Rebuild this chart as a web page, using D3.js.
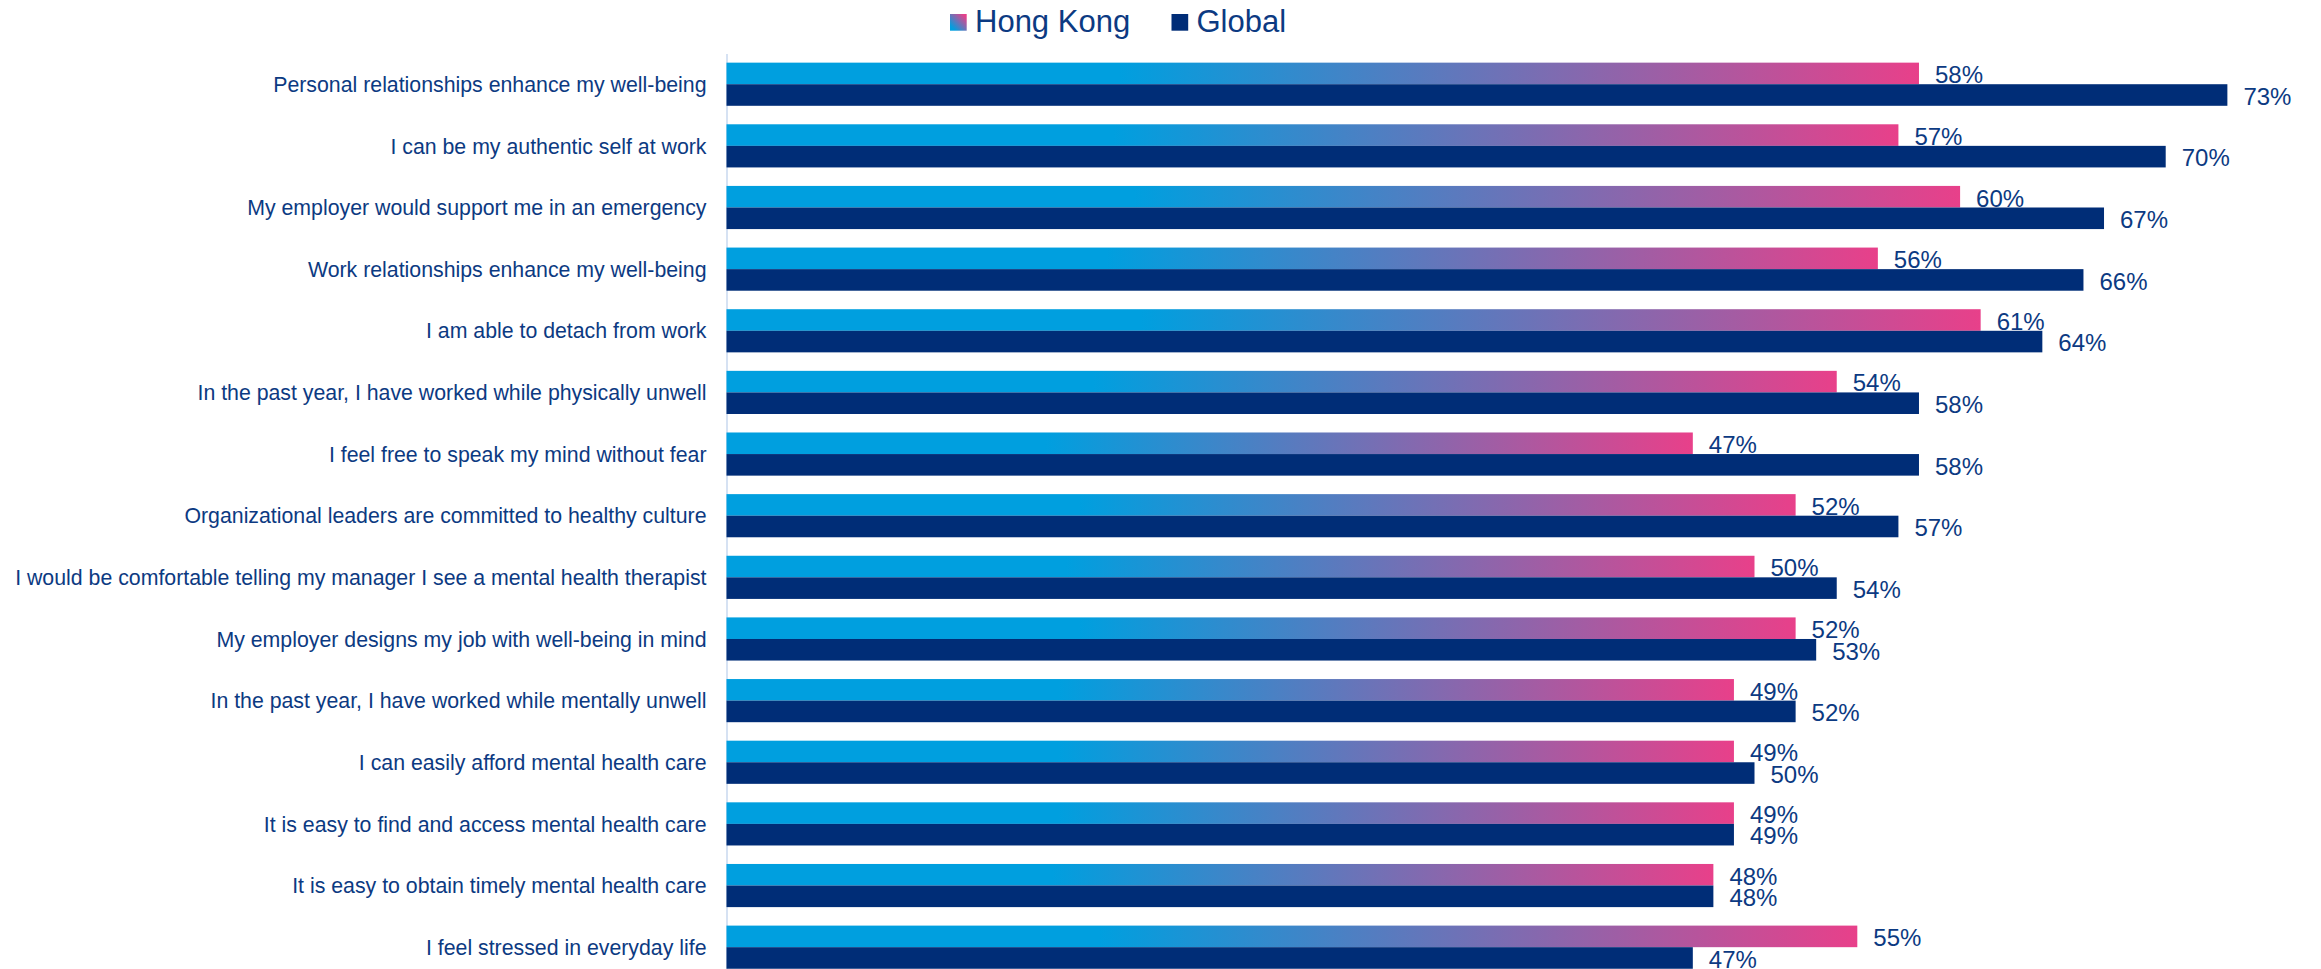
<!DOCTYPE html>
<html>
<head>
<meta charset="utf-8">
<script src="https://cdn.jsdelivr.net/npm/d3@7"></script>
<style>
  html, body { margin: 0; padding: 0; background: #fff; }
  svg { display: block; font-family: "Liberation Sans", Arial, sans-serif; }
</style>
</head>
<body>
<svg id="chart" width="2321" height="969"></svg>
<script>
// Survey statements, top to bottom
const categories = [
  "Personal relationships enhance my well-being",
  "I can be my authentic self at work",
  "My employer would support me in an emergency",
  "Work relationships enhance my well-being",
  "I am able to detach from work",
  "In the past year, I have worked while physically unwell",
  "I feel free to speak my mind without fear",
  "Organizational leaders are committed to healthy culture",
  "I would be comfortable telling my manager I see a mental health therapist",
  "My employer designs my job with well-being in mind",
  "In the past year, I have worked while mentally unwell",
  "I can easily afford mental health care",
  "It is easy to find and access mental health care",
  "It is easy to obtain timely mental health care",
  "I feel stressed in everyday life"
];
// Share agreeing (%)
const hongKong = [58, 57, 60, 56, 61, 54, 47, 52, 50, 52, 49, 49, 49, 48, 55];
const globalValues = [73, 70, 67, 66, 64, 58, 58, 57, 54, 53, 52, 50, 49, 48, 47];
const seriesNames = ["Hong Kong", "Global"];

const textColor = "#0c3a82";
const navy = "#002d77";
const hkBlue = "#009fdf";
const hkPink = "#e8408a";

const svg = d3.select("#chart");
const defs = svg.append("defs");

// Horizontal blue-to-pink fill stretched over each Hong Kong bar
const barGrad = defs.append("linearGradient")
  .attr("id", "hkBarGrad").attr("x1", 0).attr("y1", 0).attr("x2", 1).attr("y2", 0);
barGrad.append("stop").attr("offset", "0").attr("stop-color", hkBlue);
barGrad.append("stop").attr("offset", "0.33").attr("stop-color", hkBlue);
barGrad.append("stop").attr("offset", "1").attr("stop-color", hkPink);

// Diagonal version for the legend swatch
const swGrad = defs.append("linearGradient")
  .attr("id", "hkSwatchGrad").attr("x1", 0).attr("y1", 1).attr("x2", 1).attr("y2", 0);
swGrad.append("stop").attr("offset", "0.15").attr("stop-color", hkBlue);
swGrad.append("stop").attr("offset", "0.9").attr("stop-color", hkPink);

const left = 726.5;
const x = d3.scaleLinear().domain([0, 100]).range([left, left + 2056]);

const y = d3.scaleBand()
  .domain(categories)
  .range([53.4, 53.4 + 61.64 * categories.length])
  .paddingInner(0.3)
  .paddingOuter(0.15);

const inner = d3.scaleBand()
  .domain(seriesNames)
  .range([0, y.bandwidth()]);

// Category axis
const axis = svg.append("g")
  .attr("transform", `translate(${left},0)`)
  .call(d3.axisLeft(y).tickSize(0).tickPadding(20));
axis.select(".domain").attr("stroke", "#c9d8ef").attr("stroke-width", 1.5);
axis.selectAll(".tick text")
  .attr("fill", textColor)
  .style("font-size", "21.3px")
  .style("font-family", "'Liberation Sans', Arial, sans-serif")
  .attr("dy", "0.36em");

const rows = svg.append("g").selectAll("g")
  .data(categories.map((c, i) => ({ c, hk: hongKong[i], gl: globalValues[i] })))
  .join("g")
  .attr("transform", d => `translate(0,${y(d.c)})`);

const bars = [
  { key: "Hong Kong", get: d => d.hk, fill: "url(#hkBarGrad)" },
  { key: "Global", get: d => d.gl, fill: navy }
];

bars.forEach(b => {
  rows.append("rect")
    .attr("x", x(0))
    .attr("y", inner(b.key))
    .attr("width", d => x(b.get(d)) - x(0))
    .attr("height", inner.bandwidth())
    .attr("fill", b.fill);

  rows.append("text")
    .attr("x", d => x(b.get(d)) + 16)
    .attr("y", inner(b.key) + inner.bandwidth() - 1)
    .attr("fill", textColor)
    .style("font-size", "24px")
    .text(d => b.get(d) + "%");
});

// Legend
const legend = svg.append("g");
const legendItems = [
  { name: seriesNames[0], fill: "url(#hkSwatchGrad)", x: 950 },
  { name: seriesNames[1], fill: navy, x: 1171.5 }
];
legendItems.forEach(it => {
  legend.append("rect")
    .attr("x", it.x).attr("y", 14)
    .attr("width", 16.7).attr("height", 16.7)
    .attr("fill", it.fill);
  legend.append("text")
    .attr("x", it.x + 25).attr("y", 32.3)
    .attr("fill", textColor)
    .style("font-size", "31px")
    .text(it.name);
});
</script>
</body>
</html>
